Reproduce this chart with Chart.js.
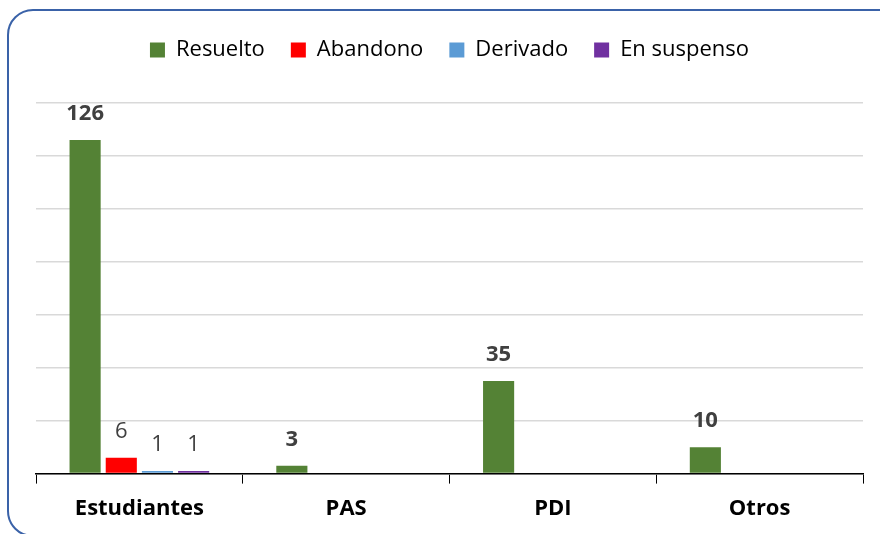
<!DOCTYPE html>
<html>
<head>
<meta charset="utf-8">
<script src="https://cdn.jsdelivr.net/npm/chart.js@4"></script>
<style>
  body { margin: 0; background: #fff; }
  #wrap { position: relative; width: 880px; height: 534px; overflow: hidden; }
  #frame {
    position: absolute; left: 7px; top: 9px; width: 900px; height: 524px;
    border: 2px solid #3A62A8; border-radius: 26px; pointer-events: none;
  }
  canvas { position: absolute; left: 0; top: 0; }
</style>
</head>
<body>
<div id="wrap">
  <canvas id="myChart" width="880" height="534"></canvas>
  <div id="frame"></div>
</div>
<script>
const categories = ["Estudiantes", "PAS", "PDI", "Otros"];
const resuelto = [126, 3, 35, 10];
const abandono = [6, 0, 0, 0];
const derivado = [1, 0, 0, 0];
const suspenso = [1, 0, 0, 0];

// etiquetas encima de las barras (solo valores > 0)
const barLabels = {
  id: "barLabels",
  afterDatasetsDraw(chart) {
    const ctx = chart.ctx;
    ctx.save();
    ctx.textAlign = "center";
    ctx.textBaseline = "middle";
    chart.data.datasets.forEach((ds, i) => {
      const meta = chart.getDatasetMeta(i);
      meta.data.forEach((bar, j) => {
        const v = ds.data[j];
        if (!v) return;
        ctx.fillStyle = "#404040";
        ctx.font = (i === 0 ? "bold " : "") + "22px 'Open Sans'";
        ctx.fillText(v, bar.x, bar.y - 26);
      });
    });
    ctx.restore();
  }
};

// espacio extra bajo la leyenda
const legendGap = {
  id: "legendGap",
  beforeInit(chart) {
    const fit = chart.legend.fit;
    chart.legend.fit = function () {
      fit.bind(chart.legend)();
      this.height += 32;
    };
  }
};

const ctx = document.getElementById("myChart").getContext("2d");
new Chart(ctx, {
  type: "bar",
  data: {
    labels: categories,
    datasets: [
      { label: "Resuelto", data: resuelto, backgroundColor: "#548235" },
      { label: "Abandono", data: abandono, backgroundColor: "#FF0000" },
      { label: "Derivado", data: derivado, backgroundColor: "#5B9BD5" },
      { label: "En suspenso", data: suspenso, backgroundColor: "#7030A0" },
    ],
  },
  options: {
    responsive: false,
    animation: false,
    layout: { padding: { left: 36, right: 17, top: 13, bottom: 0 } },
    datasets: { bar: { categoryPercentage: 0.7, barPercentage: 0.86 } },
    plugins: {
      legend: {
        position: "top",
        labels: {
          boxWidth: 15, boxHeight: 15, padding: 26,
          color: "#000", font: { size: 22, family: "'Open Sans'" },
        },
      },
      tooltip: { enabled: false },
    },
    scales: {
      x: {
        grid: { drawOnChartArea: false, tickLength: 10, color: "#000", offset: true },
        border: { color: "#000", width: 1.5 },
        ticks: { color: "#000", font: { size: 22, weight: "bold", family: "'Open Sans'" }, padding: 12 },
      },
      y: {
        min: 0, max: 140,
        ticks: { stepSize: 20, display: false },
        grid: { color: "#d9d9d9", lineWidth: 1.5, drawTicks: false },
        border: { display: false },
      },
    },
  },
  plugins: [barLabels, legendGap],
});
</script>
</body>
</html>
